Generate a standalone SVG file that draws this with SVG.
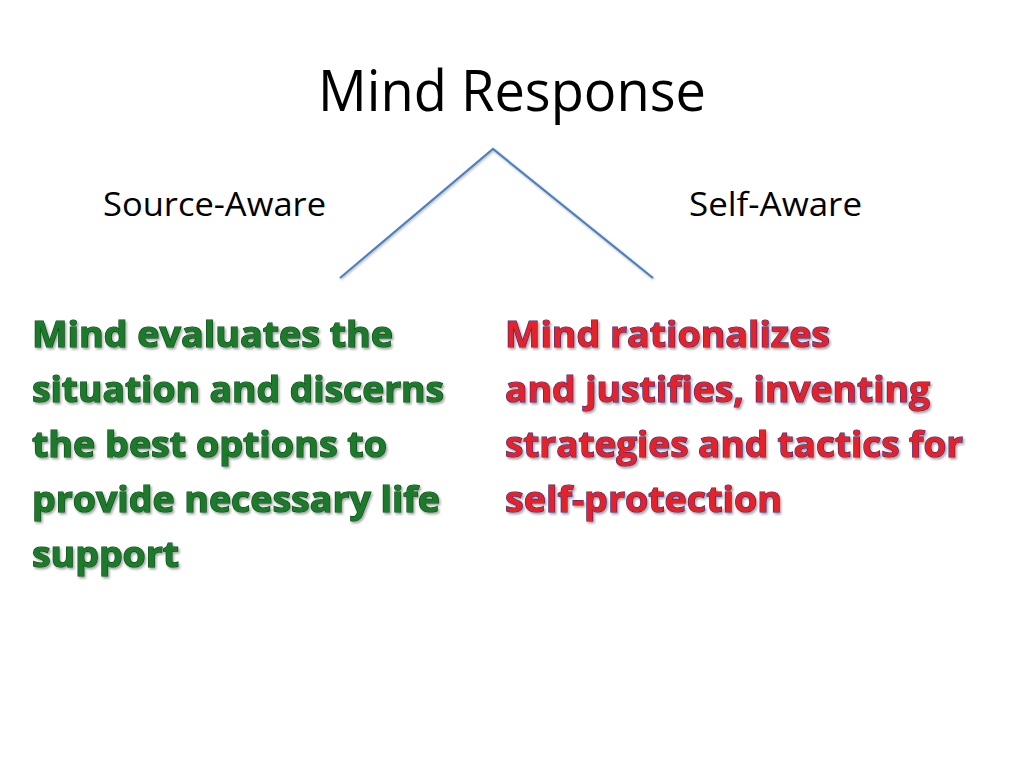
<svg xmlns="http://www.w3.org/2000/svg" width="1024" height="768" viewBox="0 0 1024 768">
<defs>
<style>
.title{font-family:"Open Sans","Liberation Sans",sans-serif;font-size:56px;fill:#000}
.label{font-family:"Open Sans","Liberation Sans",sans-serif;font-size:32px;fill:#000}
.body{font-family:"Open Sans","Liberation Sans",sans-serif;font-size:36px;font-weight:bold;stroke-width:1.2px;paint-order:stroke fill}
.green{fill:#1b7a2b;stroke:#0c4a1b}
.red{fill:#e4202c;stroke:#3a2c80}
.conn{stroke:#4f81bd;stroke-width:2.2;fill:none}
</style>
<filter id="sh" x="-5%" y="-20%" width="110%" height="140%">
<feDropShadow dx="1.5" dy="2" stdDeviation="1.2" flood-color="#000" flood-opacity="0.35"/>
</filter>
<filter id="lsh" x="-5%" y="-5%" width="110%" height="110%">
<feDropShadow dx="0.8" dy="1.2" stdDeviation="0.8" flood-color="#000" flood-opacity="0.3"/>
</filter>
</defs>
<rect width="1024" height="768" fill="#fff"/>
<g id="title"><text class="title" x="318" y="111" textLength="388" lengthAdjust="spacingAndGlyphs">Mind Response</text></g>
<g id="connectors" filter="url(#lsh)">
<path class="conn" d="M340,278 L493,149 L653,278"/>
</g>
<g id="source-aware"><text class="label" x="103" y="216" textLength="223" lengthAdjust="spacingAndGlyphs">Source-Aware</text></g>
<g id="self-aware"><text class="label" x="689" y="216" textLength="173" lengthAdjust="spacingAndGlyphs">Self-Aware</text></g>
<g id="source-text" class="body green" filter="url(#sh)">
<text x="32" y="347" textLength="361" lengthAdjust="spacingAndGlyphs">Mind evaluates the</text>
<text x="32" y="402" textLength="412" lengthAdjust="spacingAndGlyphs">situation and discerns</text>
<text x="32" y="457" textLength="355" lengthAdjust="spacingAndGlyphs">the best options to</text>
<text x="32" y="512" textLength="408" lengthAdjust="spacingAndGlyphs">provide necessary life</text>
<text x="32" y="567" textLength="147" lengthAdjust="spacingAndGlyphs">support</text>
</g>
<g id="self-text" class="body red" filter="url(#sh)">
<text x="505" y="347" textLength="325" lengthAdjust="spacingAndGlyphs">Mind rationalizes</text>
<text x="505" y="402" textLength="425" lengthAdjust="spacingAndGlyphs">and justifies, inventing</text>
<text x="505" y="457" textLength="458" lengthAdjust="spacingAndGlyphs">strategies and tactics for</text>
<text x="505" y="512" textLength="277" lengthAdjust="spacingAndGlyphs">self-protection</text>
</g>
</svg>
